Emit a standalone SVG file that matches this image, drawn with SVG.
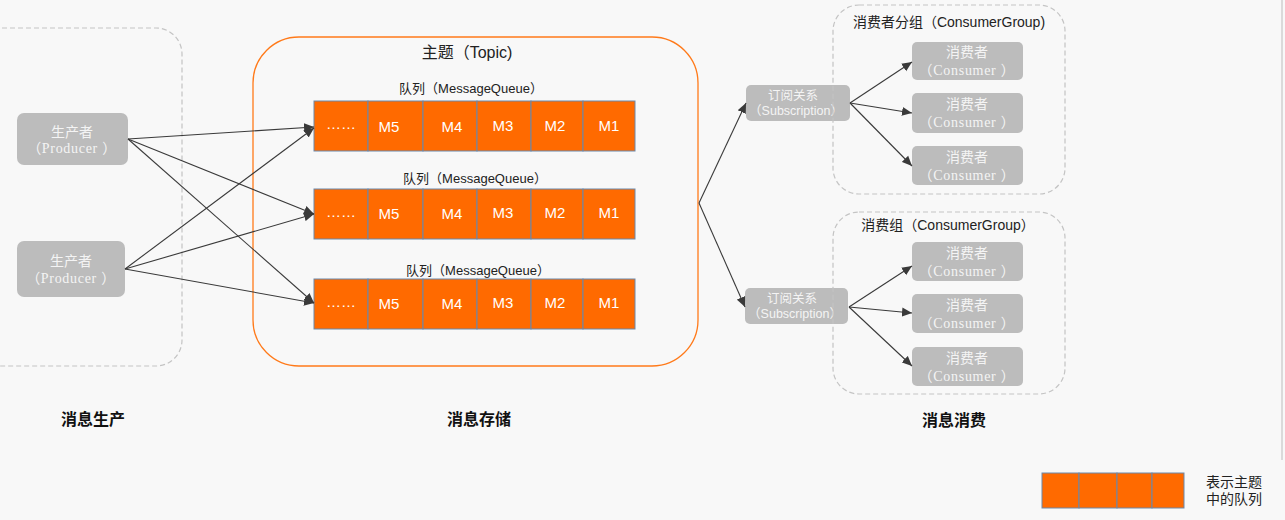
<svg xmlns="http://www.w3.org/2000/svg" width="1285" height="520" viewBox="0 0 1285 520">
<defs>
<marker id="ah" viewBox="0 0 10 10" refX="10" refY="5" markerWidth="10" markerHeight="10" markerUnits="userSpaceOnUse" orient="auto">
<path d="M0,0.5 L10,5 L0,9.5 z" fill="#3a3a3a"/>
</marker>
<style>
.bg{fill:#f8f8f8}
.dash{fill:none;stroke:#c4c4c4;stroke-width:1.2;stroke-dasharray:5 3}
.node{fill:#bcbcbc}
.cn{font-family:"Noto Sans CJK SC",sans-serif;fill:#f4f4f4;text-anchor:middle}
.lat{font-family:"Liberation Serif","Noto Sans CJK SC",serif;fill:#f4f4f4;text-anchor:middle;font-size:14px;letter-spacing:0.7px}
.sub{font-family:"Liberation Sans","Noto Sans CJK SC",sans-serif;fill:#f4f4f4;text-anchor:middle;font-size:12.5px}
.cell{fill:#ff6a00;stroke:#6a88aa;stroke-width:1}
.ct{font-family:"Liberation Sans",sans-serif;fill:#ffffff;font-size:15px;text-anchor:middle}
.lbl{font-family:"Liberation Sans","Noto Sans CJK SC",sans-serif;fill:#222;text-anchor:middle}
.lg{font-family:"Liberation Sans","Noto Sans CJK SC",sans-serif;fill:#222;font-size:14px}
.bold{font-family:"Noto Sans CJK SC",sans-serif;font-weight:bold;font-size:16px;fill:#111;text-anchor:middle}
.conn line{stroke:#3a3a3a;stroke-width:1.1;marker-end:url(#ah)}
</style>
</defs>
<rect class="bg" x="0" y="0" width="1285" height="520"/>
<line x1="1282" y1="0" x2="1282" y2="460" stroke="#d0d0d0" stroke-width="1.5"/>

<g id="production-area">
<rect class="dash" x="-40" y="28" width="222" height="338" rx="26"/>
</g>
<g id="producer1">
<rect class="node" x="17" y="113" width="111" height="52" rx="7"/>
<text class="cn" x="72" y="137" font-size="14">生产者</text>
<text class="lat" x="72" y="153">（Producer ）</text>
</g>
<g id="producer2">
<rect class="node" x="17" y="241" width="108" height="56" rx="7"/>
<text class="cn" x="71" y="266" font-size="14">生产者</text>
<text class="lat" x="71" y="283">（Producer ）</text>
</g>

<g id="topic">
<rect x="253" y="37" width="445" height="329" rx="46" fill="none" stroke="#ff7a1a" stroke-width="1.3"/>
<text class="lbl" x="467" y="58" font-size="16">主题（Topic)</text>
</g>

<g id="queue1">
<text class="lbl" x="471" y="93" font-size="13">队列（MessageQueue）</text>
<rect class="cell" x="314" y="101" width="54" height="50"/>
<rect class="cell" x="368" y="101" width="55" height="50"/>
<rect class="cell" x="423" y="101" width="54" height="50"/>
<rect class="cell" x="477" y="101" width="54" height="50"/>
<rect class="cell" x="531" y="101" width="52" height="50"/>
<rect class="cell" x="583" y="101" width="52" height="50"/>
<text class="ct" x="341" y="129" font-size="12">……</text>
<text class="ct" x="389" y="132">M5</text>
<text class="ct" x="452" y="132">M4</text>
<text class="ct" x="503" y="131">M3</text>
<text class="ct" x="555" y="131">M2</text>
<text class="ct" x="609" y="131">M1</text>
</g>
<g id="queue2">
<text class="lbl" x="475" y="183" font-size="13">队列（MessageQueue）</text>
<rect class="cell" x="314" y="189" width="54" height="50"/>
<rect class="cell" x="368" y="189" width="55" height="50"/>
<rect class="cell" x="423" y="189" width="54" height="50"/>
<rect class="cell" x="477" y="189" width="54" height="50"/>
<rect class="cell" x="531" y="189" width="52" height="50"/>
<rect class="cell" x="583" y="189" width="52" height="50"/>
<text class="ct" x="341" y="217" font-size="12">……</text>
<text class="ct" x="389" y="219">M5</text>
<text class="ct" x="452" y="219">M4</text>
<text class="ct" x="503" y="218">M3</text>
<text class="ct" x="555" y="218">M2</text>
<text class="ct" x="609" y="218">M1</text>
</g>
<g id="queue3">
<text class="lbl" x="478" y="275" font-size="13">队列（MessageQueue）</text>
<rect class="cell" x="314" y="279" width="54" height="50"/>
<rect class="cell" x="368" y="279" width="55" height="50"/>
<rect class="cell" x="423" y="279" width="54" height="50"/>
<rect class="cell" x="477" y="279" width="54" height="50"/>
<rect class="cell" x="531" y="279" width="52" height="50"/>
<rect class="cell" x="583" y="279" width="52" height="50"/>
<text class="ct" x="341" y="307" font-size="12">……</text>
<text class="ct" x="389" y="309">M5</text>
<text class="ct" x="452" y="309">M4</text>
<text class="ct" x="503" y="308">M3</text>
<text class="ct" x="555" y="308">M2</text>
<text class="ct" x="609" y="308">M1</text>
</g>

<g id="subscription1">
<rect class="node" x="746" y="85" width="104" height="36" rx="5"/>
<text class="cn" x="793" y="100" font-size="12.5">订阅关系</text>
<text class="sub" x="796" y="115">（Subscription）</text>
</g>
<g id="subscription2">
<rect class="node" x="745" y="288" width="103" height="36" rx="5"/>
<text class="cn" x="792" y="303" font-size="12.5">订阅关系</text>
<text class="sub" x="795" y="318">（Subscription）</text>
</g>

<g id="consumer-group1">
<rect class="dash" x="833" y="5" width="232" height="189" rx="26"/>
<text class="lbl" x="949" y="27" font-size="14">消费者分组（ConsumerGroup)</text>
</g>
<g id="consumer1">
<rect class="node" x="912" y="42" width="111" height="38" rx="5"/>
<text class="cn" x="967" y="57" font-size="14">消费者</text>
<text class="lat" x="967" y="75">（Consumer ）</text>
</g>
<g id="consumer2">
<rect class="node" x="912" y="93" width="111" height="40" rx="5"/>
<text class="cn" x="967" y="109" font-size="14">消费者</text>
<text class="lat" x="967" y="127">（Consumer ）</text>
</g>
<g id="consumer3">
<rect class="node" x="912" y="146" width="111" height="39" rx="5"/>
<text class="cn" x="967" y="162" font-size="14">消费者</text>
<text class="lat" x="967" y="180">（Consumer ）</text>
</g>

<g id="consumer-group2">
<rect class="dash" x="833" y="212" width="232" height="182" rx="26"/>
<text class="lbl" x="948" y="230" font-size="14">消费组（ConsumerGroup）</text>
</g>
<g id="consumer4">
<rect class="node" x="912" y="242" width="111" height="39" rx="5"/>
<text class="cn" x="967" y="258" font-size="14">消费者</text>
<text class="lat" x="967" y="276">（Consumer ）</text>
</g>
<g id="consumer5">
<rect class="node" x="912" y="294" width="111" height="39" rx="5"/>
<text class="cn" x="967" y="310" font-size="14">消费者</text>
<text class="lat" x="967" y="328">（Consumer ）</text>
</g>
<g id="consumer6">
<rect class="node" x="912" y="347" width="111" height="39" rx="5"/>
<text class="cn" x="967" y="363" font-size="14">消费者</text>
<text class="lat" x="967" y="381">（Consumer ）</text>
</g>

<g id="connectors" class="conn">
<line x1="128" y1="139" x2="314" y2="127"/>
<line x1="128" y1="139" x2="314" y2="214"/>
<line x1="128" y1="139" x2="314" y2="303"/>
<line x1="125" y1="269" x2="314" y2="128"/>
<line x1="125" y1="269" x2="314" y2="214"/>
<line x1="125" y1="269" x2="314" y2="303"/>
<line x1="699" y1="203" x2="746" y2="103"/>
<line x1="699" y1="203" x2="745" y2="307"/>
<line x1="850" y1="103" x2="912" y2="62"/>
<line x1="850" y1="103" x2="912" y2="113"/>
<line x1="850" y1="103" x2="912" y2="166"/>
<line x1="849" y1="307" x2="912" y2="266"/>
<line x1="849" y1="307" x2="912" y2="313"/>
<line x1="849" y1="307" x2="912" y2="366"/>
</g>

<g id="section-labels">
<text class="bold" x="93" y="425">消息生产</text>
<text class="bold" x="479" y="425">消息存储</text>
<text class="bold" x="954" y="426">消息消费</text>
</g>

<g id="legend">
<rect class="cell" x="1042" y="473" width="37" height="35"/>
<rect class="cell" x="1079" y="473" width="38" height="35"/>
<rect class="cell" x="1117" y="473" width="35" height="35"/>
<rect class="cell" x="1152" y="473" width="32" height="35"/>
<text class="lg" x="1206" y="487">表示主题</text>
<text class="lg" x="1206" y="504">中的队列</text>
</g>
</svg>
